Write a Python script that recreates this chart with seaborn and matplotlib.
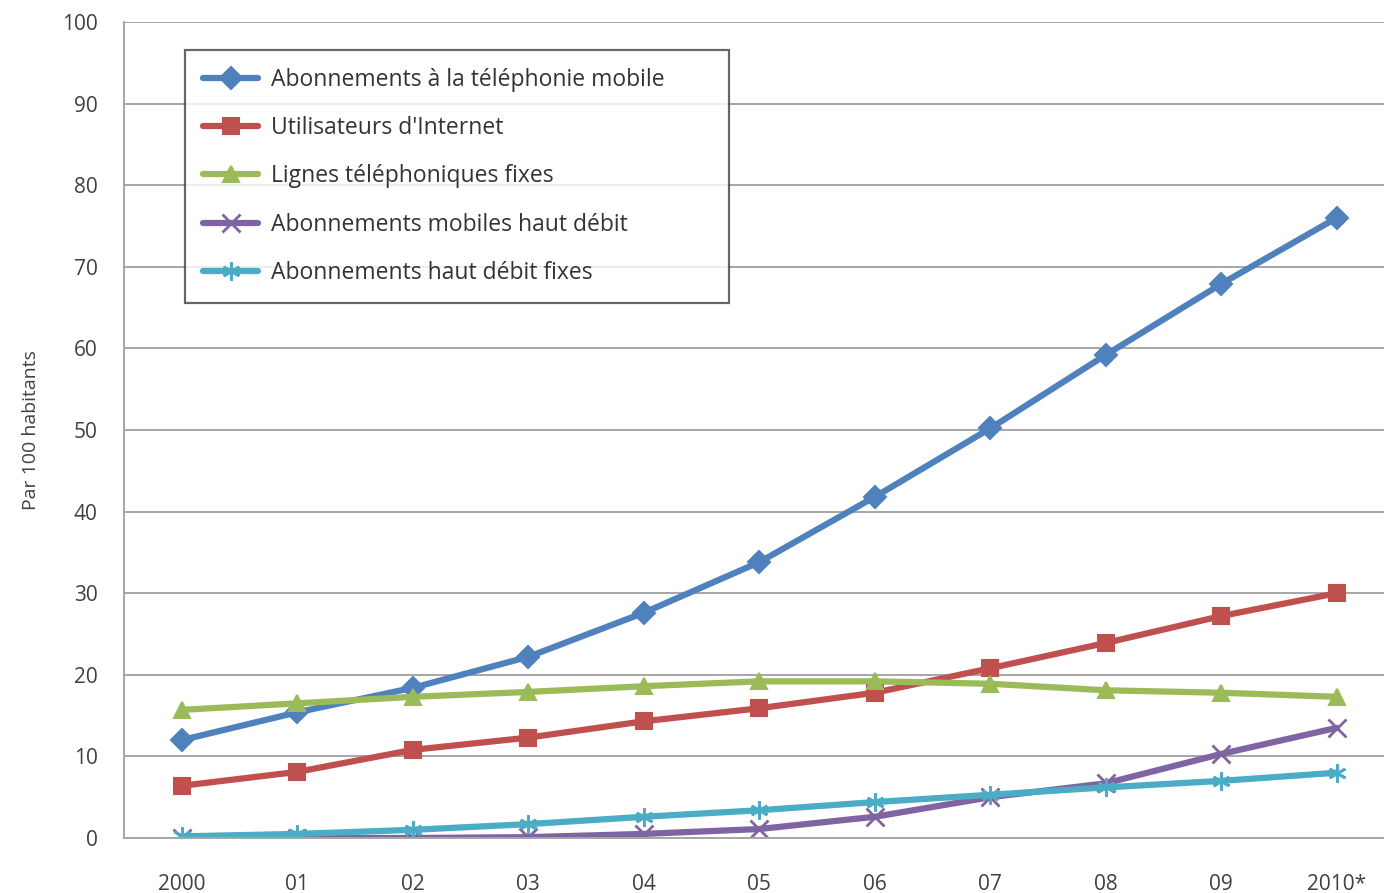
import numpy as np
import pandas as pd
import matplotlib
matplotlib.use("Agg")
import matplotlib.pyplot as plt
import seaborn as sns

# valeurs (par 100 habitants)
years = ["2000", "01", "02", "03", "04", "05", "06", "07", "08", "09", "2010*"]
mobile = [12.0, 15.4, 18.4, 22.2, 27.6, 33.8, 41.8, 50.2, 59.2, 67.9, 76.0]
internet = [6.4, 8.1, 10.8, 12.3, 14.3, 15.9, 17.8, 20.8, 23.9, 27.2, 30.0]
fixes = [15.7, 16.5, 17.3, 17.9, 18.6, 19.2, 19.2, 18.9, 18.1, 17.8, 17.3]
mobile_hd = [0.0, 0.0, 0.0, 0.1, 0.5, 1.1, 2.6, 5.0, 6.7, 10.3, 13.5]
fixe_hd = [0.2, 0.5, 1.0, 1.7, 2.6, 3.4, 4.4, 5.3, 6.2, 7.0, 8.0]

names = ["Abonnements à la téléphonie mobile",
         "Utilisateurs d'Internet",
         "Lignes téléphoniques fixes",
         "Abonnements mobiles haut débit",
         "Abonnements haut débit fixes"]
colors = ["#4F81BD", "#C0504D", "#9BBB59", "#8064A2", "#4BACC6"]
markers = ["D", "s", "^", "x", (6, 2, 0)]

series = [mobile, internet, fixes, mobile_hd, fixe_hd]
rows = []
for name, vals in zip(names, series):
    for i, v in enumerate(vals):
        rows.append({"x": i, "val": v, "serie": name})
df = pd.DataFrame(rows)

sns.set_style("white")
plt.rcParams['font.family'] = ['Open Sans', 'DejaVu Sans']

fig = plt.figure(figsize=(13.84, 8.93), dpi=100)
ax = fig.add_axes([0.0896, 0.0616, 0.918, 0.9138])

for name, col, mk in zip(names, colors, markers):
    sub = df[df.serie == name]
    thin = mk in ("x", (6, 2, 0))
    sns.lineplot(data=sub, x="x", y="val", ax=ax, color=col, marker=mk,
                 linewidth=4.5, markersize=13 if thin else 11,
                 markeredgewidth=2.0 if thin else 1.5,
                 markeredgecolor=col, label=name)

ax.set_xlim(-0.5, 10.5)
ax.set_ylim(0, 100)
ax.set_yticks(np.arange(0, 101, 10))
ax.set_xticks(range(len(years)))
ax.set_xticklabels(years)
ax.grid(axis="y", color="#A6A6A6", linewidth=1.4)
ax.grid(axis="x", visible=False)
for s in ["top", "right"]:
    ax.spines[s].set_visible(False)
ax.spines["left"].set_color("#A6A6A6")
ax.spines["left"].set_linewidth(1.4)
ax.spines["bottom"].set_color("#A6A6A6")
ax.spines["bottom"].set_linewidth(1.4)
ax.tick_params(axis="both", labelsize=15, colors="#404040", length=0)
ax.tick_params(axis="x", pad=26)
ax.tick_params(axis="y", pad=19)
ax.set_xlabel("")
ax.set_ylabel("Par 100 habitants", fontsize=14, color="#404040", labelpad=16)

leg = ax.legend(loc="upper left", bbox_to_anchor=(0.1337, 0.944, 0.393, 0.0),
                bbox_transform=fig.transFigure, mode="expand",
                fontsize=16.5, frameon=True, fancybox=False, handlelength=2.4,
                handletextpad=0.55, labelspacing=1.05, borderpad=0.8,
                borderaxespad=0, numpoints=1)
leg.get_frame().set_edgecolor("#404040")
leg.get_frame().set_linewidth(1.6)
for t in leg.get_texts():
    t.set_color("#333333")

fig.savefig("out.png", dpi=100)
